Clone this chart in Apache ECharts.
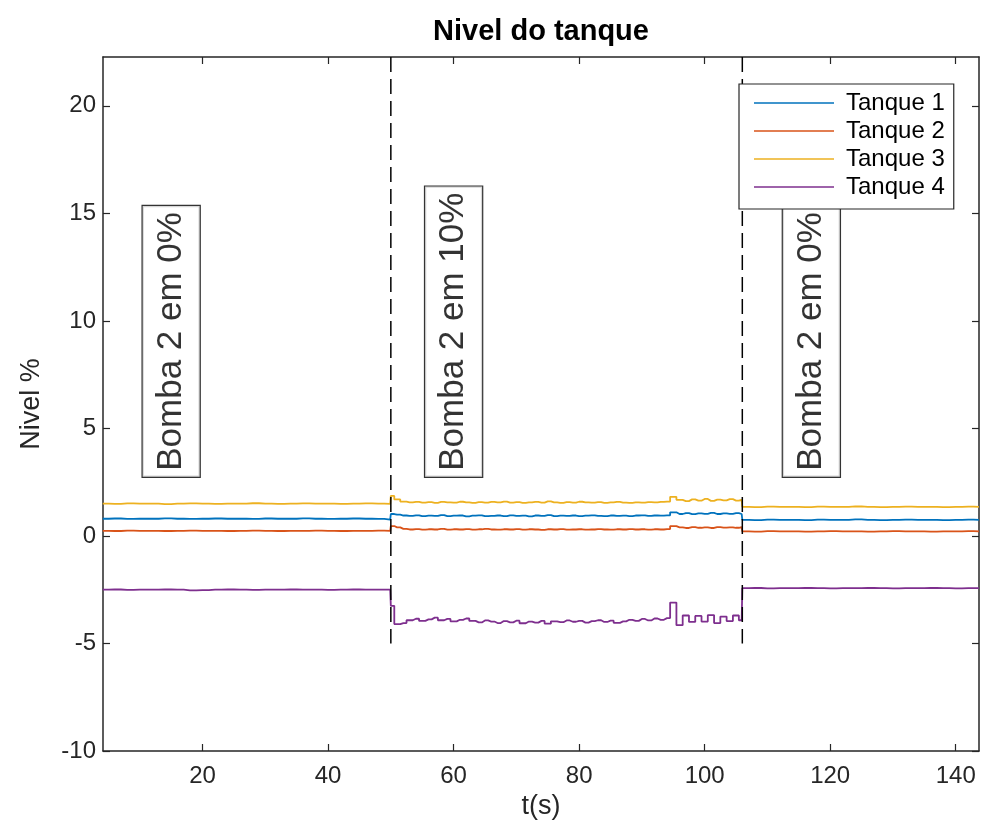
<!DOCTYPE html>
<html>
<head>
<meta charset="utf-8">
<script src="https://cdn.jsdelivr.net/npm/echarts@6/dist/echarts.min.js"></script>
<style>
  html, body { margin: 0; padding: 0; background: #fff; }
  #chart { width: 983px; height: 829px; }
</style>
</head>
<body>
<div id="chart"></div>
<script>
// Time base (s): a slow-sampled quiet stretch, a denser stretch while pump 2 runs, then quiet again
const t = [
  4.1, 6, 8, 10, 12, 14, 16, 18, 20, 22, 24, 26, 28, 30, 32, 34, 36, 38, 40, 42, 44, 46, 48, 49.9,
  50.1, 51, 52, 53, 54, 55, 56, 57, 58, 59,
  60, 61, 62, 63, 64, 65, 66, 67, 68, 69,
  70, 71, 72, 73, 74, 75, 76, 77, 78, 79,
  80, 81, 82, 83, 84, 85, 86, 87, 88, 89,
  90, 91, 92, 93, 94, 95, 96, 97, 98, 99,
  100, 101, 102, 103, 104, 105, 105.9,
  106.1, 108, 110, 112, 114, 116, 118, 120, 122, 124, 126, 128, 130, 132, 134, 136, 138, 140, 142, 143.7
];

// Level of each tank (%)
const tanque1 = [
  0.80, 0.81, 0.79, 0.80, 0.80, 0.82, 0.80, 0.79, 0.80, 0.81, 0.80, 0.80, 0.79, 0.81, 0.80, 0.80, 0.82, 0.80, 0.79, 0.80, 0.81, 0.80, 0.79, 0.76,
  1.02, 0.99, 0.95, 0.93, 0.96, 0.92, 0.94, 0.93, 0.97, 0.92,
  0.94, 0.95, 0.91, 0.94, 0.96, 0.92, 0.93, 0.95, 0.92, 0.96,
  0.93, 0.94, 0.91, 0.95, 0.93, 0.97, 0.92, 0.94, 0.93, 0.95,
  0.92, 0.94, 0.96, 0.93, 0.92, 0.95, 0.93, 0.94, 0.92, 0.95,
  0.96, 0.93, 0.95, 0.94, 0.96, 1.10, 1.02, 1.06, 1.01, 1.05,
  1.03, 1.07, 1.02, 1.05, 1.03, 1.06, 1.02,
  0.75, 0.74, 0.76, 0.75, 0.75, 0.74, 0.76, 0.75, 0.75, 0.77, 0.75, 0.74, 0.75, 0.76, 0.75, 0.75, 0.74, 0.75, 0.76, 0.75
];
const tanque2 = [
  0.24, 0.23, 0.25, 0.24, 0.24, 0.23, 0.24, 0.25, 0.24, 0.24, 0.23, 0.24, 0.25, 0.24, 0.23, 0.24, 0.24, 0.25, 0.24, 0.23, 0.24, 0.24, 0.25, 0.24,
  0.46, 0.40, 0.33, 0.30, 0.32, 0.29, 0.31, 0.30, 0.33, 0.29,
  0.31, 0.30, 0.32, 0.29, 0.31, 0.33, 0.30, 0.29, 0.31, 0.30,
  0.32, 0.29, 0.31, 0.30, 0.28, 0.31, 0.30, 0.32, 0.29, 0.30,
  0.31, 0.29, 0.30, 0.32, 0.30, 0.29, 0.31, 0.30, 0.32, 0.30,
  0.31, 0.29, 0.31, 0.30, 0.32, 0.46, 0.40, 0.37, 0.41, 0.38,
  0.40, 0.37, 0.41, 0.39, 0.40, 0.38, 0.41,
  0.21, 0.20, 0.22, 0.21, 0.21, 0.20, 0.21, 0.22, 0.21, 0.21, 0.20, 0.21, 0.22, 0.21, 0.21, 0.20, 0.21, 0.21, 0.22, 0.21
];
const tanque3 = [
  1.50, 1.49, 1.51, 1.50, 1.50, 1.48, 1.50, 1.51, 1.50, 1.49, 1.50, 1.50, 1.52, 1.50, 1.49, 1.50, 1.51, 1.50, 1.50, 1.49, 1.50, 1.51, 1.50, 1.49,
  1.86, 1.70, 1.60, 1.56, 1.58, 1.55, 1.57, 1.54, 1.58, 1.56,
  1.55, 1.59, 1.56, 1.54, 1.57, 1.55, 1.58, 1.56, 1.60, 1.55,
  1.57, 1.54, 1.56, 1.58, 1.55, 1.61, 1.56, 1.54, 1.57, 1.55,
  1.59, 1.56, 1.55, 1.57, 1.54, 1.56, 1.58, 1.55, 1.54, 1.56,
  1.55, 1.57, 1.56, 1.58, 1.60, 1.82, 1.68, 1.62, 1.70, 1.64,
  1.72, 1.63, 1.69, 1.65, 1.71, 1.64, 1.68,
  1.35, 1.34, 1.36, 1.35, 1.35, 1.34, 1.36, 1.35, 1.35, 1.37, 1.35, 1.34, 1.35, 1.36, 1.35, 1.35, 1.34, 1.35, 1.36, 1.35
];
const tanque4 = [
  -2.50, -2.49, -2.51, -2.50, -2.50, -2.49, -2.50, -2.53, -2.52, -2.50, -2.49, -2.50, -2.51, -2.50, -2.50, -2.49, -2.50, -2.50, -2.51, -2.50, -2.49, -2.50, -2.50, -2.50,
  -3.25, -4.10, -4.05, -3.92, -3.85, -3.95, -3.88, -3.80, -3.92, -3.86,
  -3.97, -3.90, -3.84, -3.95, -4.02, -3.93, -3.98, -4.05, -3.96, -4.02,
  -3.94, -4.06, -3.98, -4.03, -3.95, -4.08, -3.97, -4.01, -3.93, -3.99,
  -3.95, -4.03, -3.96, -3.92, -4.00, -3.94, -4.04, -3.97, -3.90, -3.95,
  -3.86, -3.93, -3.84, -3.90, -3.82, -3.10, -4.15, -3.70, -4.00, -3.72,
  -3.98, -3.68, -4.05, -3.75, -3.96, -3.70, -3.92,
  -2.43, -2.42, -2.44, -2.43, -2.43, -2.42, -2.43, -2.44, -2.43, -2.43, -2.42, -2.43, -2.44, -2.43, -2.43, -2.42, -2.43, -2.44, -2.43, -2.43
];

const seriesNames = ['Tanque 1', 'Tanque 2', 'Tanque 3', 'Tanque 4'];
const seriesValues = [tanque1, tanque2, tanque3, tanque4];

// Pump 2 switching instants (s) and the bottom end of their marker lines (%)
const switchTimes = [50, 106];
const switchLineBottom = -5;

// Annotation texts and where they sit (time, level at the start of the text)
const noteTexts = ['Bomba 2 em 0%', 'Bomba 2 em 10%', 'Bomba 2 em 0%'];
const noteTimes = [15, 60, 117];
const noteLevel = 2.75;

// Axis ticks
const xTicks = [20, 40, 60, 80, 100, 120, 140];
const yTicks = [-10, -5, 0, 5, 10, 15, 20];
const xMin = 4.14, xMax = 143.71;
const yMin = -10, yMax = 22.27;

const colors = ['#0072BD', '#D95319', '#EDB120', '#7E2F8E'];
const FONT = '"Liberation Sans", Arial, Helvetica, sans-serif';
const AXIS_COLOR = '#262626';

const axisLine = { show: true, onZero: false, lineStyle: { color: AXIS_COLOR, width: 1.5 } };
const tick = (vals) => ({ show: true, inside: true, length: 7, customValues: vals,
  lineStyle: { color: AXIS_COLOR, width: 1.2 } });

const lineSeries = seriesNames.map((name, k) => ({
  name,
  type: 'line',
  data: t.map((x, i) => [x, seriesValues[k][i]]),
  step: 'middle',
  symbol: 'none',
  showSymbol: false,
  lineStyle: { color: colors[k], width: 1.8 },
  itemStyle: { color: colors[k] },
  z: 2 + k * 0.01,
  animation: false
}));

const switchSeries = switchTimes.map((x) => ({
  type: 'line',
  data: [[x, yMax], [x, switchLineBottom]],
  symbol: 'none',
  lineStyle: { color: '#000', width: 1.5, type: [15, 7] },
  silent: true,
  z: 3,
  animation: false
}));

const noteSeries = {
  type: 'scatter',
  symbolSize: 0,
  silent: true,
  z: 3,
  data: noteTimes.map((x, i) => ({ value: [x, noteLevel], name: noteTexts[i] })),
  label: {
    show: true,
    position: [0, 0],
    formatter: (p) => p.name,
    rotate: 90,
    align: 'left',
    verticalAlign: 'middle',
    fontFamily: FONT,
    fontSize: 35,
    lineHeight: 37,
    color: '#000',
    backgroundColor: '#fff',
    borderColor: '#000',
    borderWidth: 1.2,
    padding: [10, 6, 10, 6]
  },
  animation: false
};

const chart = echarts.init(document.getElementById('chart'), null, { renderer: 'canvas' });
chart.setOption({
  animation: false,
  backgroundColor: '#fff',
  textStyle: { fontFamily: FONT },
  grid: { left: 103, top: 57, right: 4, bottom: 78, containLabel: false, outerBoundsMode: 'none' },
  graphic: [{
    type: 'text',
    x: 541, y: 32,
    style: {
      text: 'Nivel do tanque',
      fontFamily: FONT, fontSize: 29, fontWeight: 'bold', fill: '#000',
      align: 'center', verticalAlign: 'middle',
      textAlign: 'center', textVerticalAlign: 'middle'
    }
  }],
  legend: {
    data: seriesNames,
    orient: 'vertical',
    left: 739, top: 84,
    padding: [5, 9, 8, 15],
    icon: 'rect',
    itemWidth: 80, itemHeight: 1.5, itemGap: 0,
    backgroundColor: '#fff',
    borderColor: AXIS_COLOR, borderWidth: 1.2, borderRadius: 0,
    textStyle: { fontFamily: FONT, fontSize: 24, lineHeight: 28, color: '#000', padding: [0, 0, 0, 7] },
    z: 10
  },
  xAxis: [{
    type: 'value', min: xMin, max: xMax, position: 'bottom',
    axisLine, axisTick: tick(xTicks), splitLine: { show: false },
    axisLabel: { customValues: xTicks, fontFamily: FONT, fontSize: 24, color: AXIS_COLOR, margin: 13 },
    name: 't(s)', nameLocation: 'middle', nameGap: 40,
    nameTextStyle: { fontFamily: FONT, fontSize: 27, color: AXIS_COLOR }
  }, {
    type: 'value', min: xMin, max: xMax, position: 'top',
    axisLine, axisTick: tick(xTicks), splitLine: { show: false },
    axisLabel: { show: false }
  }],
  yAxis: [{
    type: 'value', min: yMin, max: yMax, position: 'left',
    axisLine, axisTick: tick(yTicks), splitLine: { show: false },
    axisLabel: { customValues: yTicks, fontFamily: FONT, fontSize: 24, color: AXIS_COLOR, margin: 7 },
    name: 'Nivel %', nameLocation: 'middle', nameGap: 58, nameRotate: 90,
    nameTextStyle: { fontFamily: FONT, fontSize: 27, color: AXIS_COLOR }
  }, {
    type: 'value', min: yMin, max: yMax, position: 'right',
    axisLine, axisTick: tick(yTicks), splitLine: { show: false },
    axisLabel: { show: false }
  }],
  series: [...lineSeries, ...switchSeries, noteSeries]
});
</script>
</body>
</html>
